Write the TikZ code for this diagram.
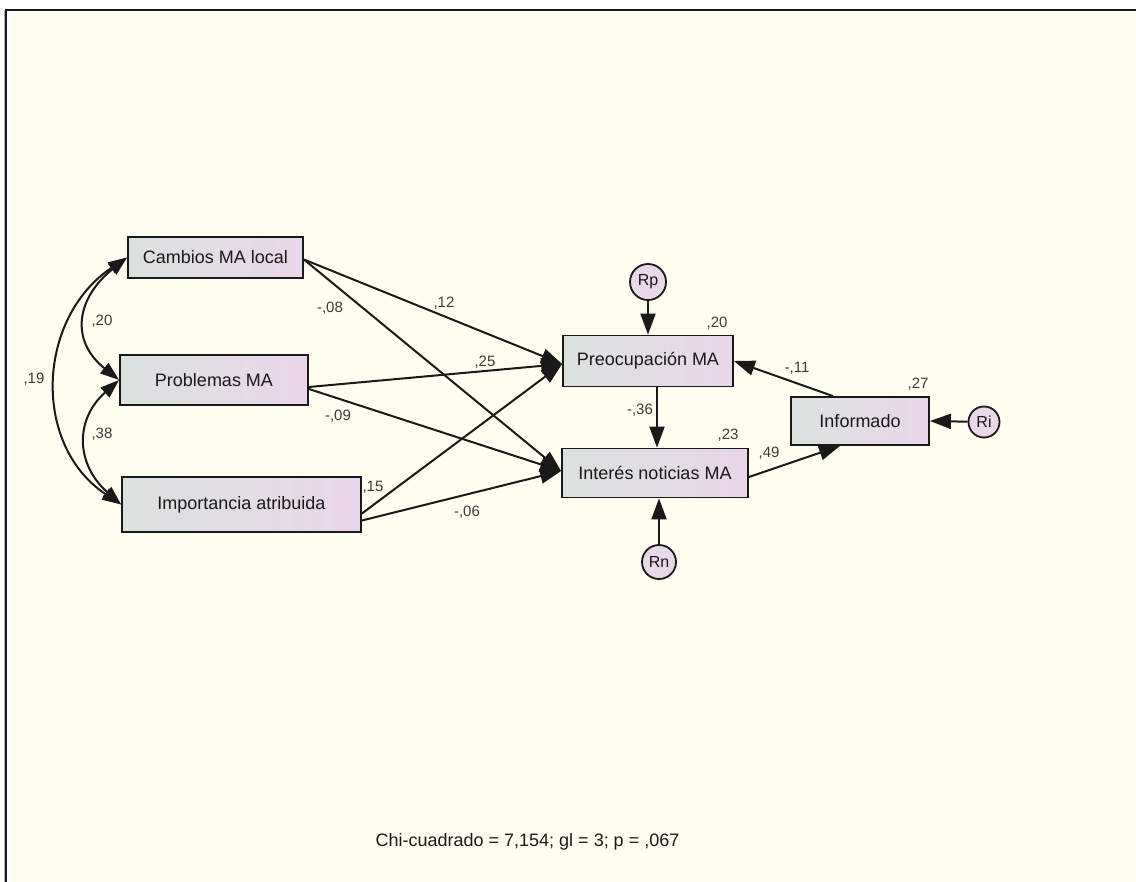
\documentclass[tikz,border=0pt]{standalone}
\usepackage{fontspec}
\setmainfont{Liberation Sans}
\usetikzlibrary{arrows.meta}
\definecolor{paper}{RGB}{255,253,240}
\definecolor{boxL}{RGB}{218,226,222}
\definecolor{boxR}{RGB}{234,214,234}
\definecolor{resid}{RGB}{232,216,232}
\definecolor{ink}{RGB}{25,25,25}
\begin{document}
\begin{tikzpicture}[x=1pt,y=-1pt,
  var/.style={draw=ink, line width=1.8pt, left color=boxL, right color=boxR,
    inner sep=0pt, font=\fontsize{18}{20}\selectfont, text=ink},
  err/.style={circle, draw=ink, line width=1.8pt, fill=resid, inner sep=0pt,
    minimum size=35pt, font=\fontsize{16}{18}\selectfont, text=ink},
  reg/.style={draw=ink, line width=2pt, -{Triangle[length=21pt,width=15pt]}},
  cov/.style={draw=ink, line width=2pt,
    {Triangle[length=19pt,width=13pt]}-{Triangle[length=19pt,width=13pt]}},
  coef/.style={font=\fontsize{15}{17}\selectfont, text=ink!85, inner sep=0pt}
]
% page, cream panel and frame
\useasboundingbox (0,0) rectangle (1136,882);
\fill[white] (0,0) rectangle (1136,882);
\fill[paper] (12.5,12) rectangle (1136,882);
\draw[gray!60, line width=0.8pt] (4.2,10) -- (4.2,882);
\draw[black!90, line width=2pt] (6,10) -- (6,882);
\draw[black!90, line width=2pt] (5,10) -- (1136,10);

% observed variables
\node[var, minimum width=175pt, minimum height=41pt] (camb) at (215.5,257.5) {Cambios MA local};
\node[var, minimum width=188pt, minimum height=50pt] (prob) at (214,380) {Problemas MA};
\node[var, minimum width=239pt, minimum height=55pt] (imp) at (241.5,504.5) {Importancia atribuida};
\node[var, minimum width=170pt, minimum height=51pt] (pre) at (648,361) {Preocupación MA};
\node[var, minimum width=186pt, minimum height=49pt] (inte) at (655,473) {Interés noticias MA};
\node[var, minimum width=138pt, minimum height=48pt] (info) at (860,421) {Informado};

% residuals
\node[err, minimum size=36pt] (rp) at (648,282) {Rp};
\node[err, minimum size=34pt] (rn) at (659,562) {Rn};
\node[err, minimum size=31pt] (ri) at (984,422) {Ri};

% covariances
\draw[cov] (camb.west) .. controls +(-50,40) and +(-50,-40) .. (prob.west);
\draw[cov] (prob.west) .. controls +(-45,40) and +(-45,-40) .. (imp.west);
\draw[cov] (camb.west) .. controls +(-90,60) and +(-90,-60) .. (imp.west);

% regressions
\draw[reg] ([yshift=-2pt]camb.east) -- ([yshift=-3pt]pre.west);
\draw[reg] ([yshift=-2pt]camb.east) -- ([yshift=2pt]inte.west);
\draw[reg] ([yshift=-7pt]prob.east) -- ([yshift=-3pt]pre.west);
\draw[reg] ([yshift=-9pt]prob.east) -- ([yshift=2pt]inte.west);
\draw[reg] ([yshift=-9pt]imp.east) -- ([yshift=-3pt]pre.west);
\draw[reg] ([yshift=-16pt]imp.east) -- ([yshift=2pt]inte.west);
\draw[reg] ([xshift=9pt]pre.south) -- ([xshift=2pt]inte.north);
\draw[reg] ([xshift=-27pt]info.north) -- (pre.east);
\draw[reg] ([yshift=-4pt]inte.east) -- ([xshift=-20pt]info.south);
\draw[reg] (rp) -- (pre.north);
\draw[reg] (rn) -- (rn |- inte.south);
\draw[reg] (ri) -- (info.east);

% coefficients
\node[coef] (c20) at (102,321) {,20};
\node[coef] (c38) at (102,434) {,38};
\node[coef] (c19) at (34,379) {,19};
\node[coef] (c12) at (444,303) {,12};
\node[coef] (c08) at (330,308) {-,08};
\node[coef] (c25) at (485,362) {,25};
\node[coef] (c09) at (338,416) {-,09};
\node[coef] (c15) at (373,487) {,15};
\node[coef] (c06) at (467,512) {-,06};
\node[coef] (r20) at (717,323) {,20};
\node[coef] (c11) at (797,368) {-,11};
\node[coef] (r27) at (918,384) {,27};
\node[coef] (c36) at (640,410) {-,36};
\node[coef] (r23) at (728,435) {,23};
\node[coef] (c49) at (769,453) {,49};

% fit statistics
\node[font=\fontsize{18}{20}\selectfont, text=ink] (fit) at (527.5,842) {Chi-cuadrado = 7,154; gl = 3; p = ,067};
\end{tikzpicture}
\end{document}
